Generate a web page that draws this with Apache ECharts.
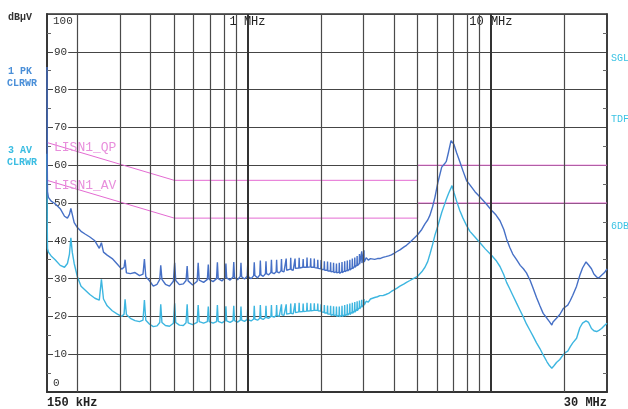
<!DOCTYPE html>
<html><head><meta charset="utf-8">
<script src="https://cdn.jsdelivr.net/npm/echarts@6/dist/echarts.min.js"></script>
<style>html,body{margin:0;padding:0;background:#fff}#c{width:628px;height:409px}</style>
</head><body><div id="c"></div>
<script>
// Frequency (MHz) of each trace sample
const freqMHz = [
0.150,0.1503,0.1507,0.152,0.156,0.162,0.170,0.177,0.182,0.1855,0.188,0.1905,0.194,0.200,0.207,0.215,0.225,0.236,0.246,0.251,0.256,0.265,0.278,0.292,0.304,0.311,0.314,0.318,0.330,0.345,0.360,0.372,0.377,0.382,0.395,0.410,0.425,0.436,0.440,0.445,
0.460,0.478,0.496,0.502,0.507,0.525,0.545,0.559,0.565,0.570,0.595,0.621,0.627,0.633,0.660,0.684,0.690,0.696,0.722,0.746,0.752,0.758,0.785,0.809,0.815,0.821,0.848,0.872,0.878,0.884,0.910,0.934,0.940,0.946,0.972,0.997,1.003,1.009,
1.035,1.060,1.066,1.072,1.100,1.123,1.129,1.135,1.160,1.185,1.191,1.197,1.222,1.248,1.254,1.260,1.286,1.311,1.317,1.323,1.350,1.373,1.379,1.385,1.412,1.436,1.442,1.448,1.475,1.499,1.505,1.511,
1.540,1.562,1.568,1.574,1.600,1.624,1.630,1.636,1.665,1.687,1.693,1.699,1.727,1.750,1.756,1.762,1.790,1.812,1.818,1.824,1.852,1.875,1.881,1.887,1.915,1.938,1.944,1.950,1.978,2.000,2.006,2.012,
2.040,2.063,2.069,2.075,2.105,2.126,2.132,2.138,2.165,2.189,2.195,2.201,2.230,2.251,2.257,2.263,2.290,2.314,2.320,2.326,2.355,2.377,2.383,2.389,2.418,2.439,2.445,2.451,2.480,2.502,2.508,2.514,
2.545,2.565,2.571,2.577,2.608,2.627,2.633,2.639,2.670,2.690,2.696,2.702,2.733,2.753,2.759,2.765,2.796,2.815,2.821,2.827,2.860,2.878,2.884,2.890,2.925,2.941,2.947,2.953,2.985,3.004,3.010,3.016,
3.050,3.073,3.135,3.200,3.260,3.330,3.420,3.500,3.600,3.700,3.800,3.900,4.000,4.100,4.230,4.400,4.500,4.650,4.800,5.000,5.200,5.360,5.500,5.620,5.760,5.890,6.060,6.280,6.440,6.560,6.700,6.860,6.920,7.050,7.230,7.450,7.680,7.950,8.200,8.600,9.020,9.500,10.08,10.50,10.90,11.30,11.60,11.95,12.30,12.75,13.20,13.60,14.00,14.50,14.90,15.40,15.90,16.40,17.00,17.40,17.80,18.00,18.20,18.60,18.80,19.20,19.80,20.20,20.70,21.20,21.70,22.50,23.20,23.80,24.60,25.20,25.90,26.50,27.20,27.80,28.50,29.30,30.00
];
// Trace 1: PK CLRWR (dBµV)
const pkDb = [
86,62,53,51.5,50.5,49.8,48.5,46.5,46,47,48.6,47,44.8,43.5,42.5,41.8,41,40,38,39.5,37,36.2,35.3,33.8,32.5,33,35,31.5,31.3,31.6,30.8,31.2,35.2,30.5,29.5,28,28.5,29.8,33.5,29.8,
28.5,28,29.3,34.2,29.5,28.4,28.6,29.5,33.3,29.4,28.3,29.3,34.2,29.6,29,29.8,33.7,29.8,29.2,30,34.3,30,29.4,30.2,34,30.2,29.6,30.4,34.4,30.3,29.7,30.6,34.2,30.5,29.9,30.6,34.5,30.5,
30,30.8,34.3,30.8,30.2,31,34.8,31,30.6,31.3,34.6,31.3,31,31.6,35,31.6,31.3,31.8,35,31.8,31.5,32.1,35.2,32,31.8,32.3,35.3,32.2,32,32.5,35.5,32.4,
32.2,32.7,35.3,32.7,32.4,32.8,35.5,32.8,32.6,33,35.2,33,32.7,33,35.6,33,32.7,33.1,35.4,33,32.6,33,35.3,32.9,32.4,32.8,35,32.7,32.3,32.6,34.9,32.4,
32,32.4,34.6,32.2,31.8,32.2,34.5,32,31.6,32,34.3,31.8,31.5,31.9,34.2,31.6,31.4,31.8,34,31.5,31.3,31.7,34.2,31.4,31.3,31.8,34.4,31.6,31.5,32,34.6,31.8,
31.8,32.2,34.8,32,32.1,32.5,35,32.3,32.4,32.8,35.3,32.6,32.8,33.2,35.6,33,33.2,33.6,36,33.4,33.6,34,36.5,33.8,34,34.3,37.2,34.1,34.3,34.6,37.5,34.4,
34.6,35.5,34.9,35.3,35,35.1,35.3,35.3,35.6,35.8,36,36.3,36.7,37.1,37.6,38.4,38.8,39.6,40.5,41.6,43,44.5,45.5,46.8,49,51.5,55.5,59.5,60.3,61,63.5,66.5,67,65.5,63.3,61,58.5,55.9,54.8,53,51.6,50,48,46.8,45.3,43,40.5,38.3,36.5,35,33.5,32.6,31.5,29.5,27.5,25,22.8,20.8,19.5,18.6,17.7,18.5,18,19.5,19,20.5,22,22.5,23,24.2,25.6,28,30.9,32.8,34.4,33.6,32.6,31.2,30.4,30.2,30.9,31.6,32.6
];
// Trace 3: AV CLRWR (dBµV)
const avDb = [
63,45,38,37,36,35,33.5,33,34,36.5,40.8,37,34,30.5,28,27,25.8,24.8,24.3,29.8,24.6,22.8,21.5,20.6,20,20.6,24.5,20.5,19.5,18.9,18.6,19,24.3,19,18,17.3,17.5,18.4,23.2,18.4,
17.6,17.4,18.2,23.5,18.4,17.7,17.6,18.3,23.2,18.3,17.8,18.4,23,18.6,18.2,18.6,22.6,18.6,18.2,18.6,23,18.7,18.3,18.8,22.7,18.8,18.4,18.9,22.8,18.9,18.5,19,22.6,19,18.7,19.2,23,19.1,
18.8,19.3,22.8,19.3,19,19.5,23,19.5,19.2,19.7,22.8,19.7,19.5,20,23,20,19.8,20.2,23,20.2,20,20.4,23.2,20.4,20.3,20.6,23.2,20.6,20.5,20.8,23.4,20.8,
20.7,21,23.5,21,20.9,21.2,23.6,21.2,21,21.3,23.4,21.3,21.1,21.4,23.6,21.4,21.3,21.5,23.5,21.5,21.3,21.6,23.5,21.6,21.3,21.6,23.4,21.5,21.2,21.4,23.2,21.2,
20.8,21.1,23,20.9,20.4,20.9,22.9,20.6,20.1,20.6,22.8,20.3,19.9,20.5,22.7,20.2,19.7,20.4,22.6,20,19.6,20.3,22.6,19.9,19.6,20.3,22.8,20,19.7,20.4,23,20.1,
19.9,20.6,23.2,20.3,20.1,20.9,23.4,20.5,20.4,21.2,23.6,20.8,20.7,21.5,23.8,21.1,21,21.9,24,21.5,21.5,22.3,24.2,22,22,22.7,24.4,22.5,22.6,23.1,24.6,23,
23.2,24,23.8,24.6,24.4,25,25.2,25.5,25.5,25.8,26.1,26.6,27,27.4,28,28.6,29,29.5,30,30.6,31.8,33,34.5,36.5,39,41.5,44,47.5,49.5,51,52.5,54,54.6,52.8,50.5,48,46,44,42.5,41,39.5,37.8,36.1,34.8,33.2,31,29,27.3,25.6,23.5,21.5,19.8,18,16.2,14.8,13,11.5,9.8,8,7,6.3,6.5,7,7.8,8.2,8.6,9.8,10.4,10.8,12,13,14.2,17,18.2,18.8,18.4,16.8,16.2,16,16.3,16.8,17.6,18.2
];
// Limit lines
const qpLimitFreq = [0.15, 0.5, 5, 5, 30];
const qpLimitDb   = [66, 56, 56, 60, 60];
const avLimitFreq = [0.15, 0.5, 5, 5, 30];
const avLimitDb   = [56, 46, 46, 50, 50];
// Vertical grid frequencies (MHz)
const gridFreqs = [0.2,0.3,0.4,0.5,0.6,0.7,0.8,0.9,2,3,4,5,6,7,8,9,20];
const decadeFreqs = [1, 10];
// Axis ranges
const yMin = 0, yMax = 100, yStep = 10;
const xMin = 0.15, xMax = 30;

const zip = (a, b) => a.map((v, i) => [v, b[i]]);
const mono = 'Liberation Mono, DejaVu Sans Mono, monospace';
const pink = '#e46bd2';
const blue = '#4670c6';
const cyan = '#3db6e0';

const chart = echarts.init(document.getElementById('c'), null, {renderer: 'canvas'});
const near = (a, b) => Math.abs(a - b) / b < 0.02;

chart.setOption({
  animation: false,
  backgroundColor: '#fff',
  grid: {left: 47, right: 21, top: 14, bottom: 15, show: true, borderColor: '#333', borderWidth: 1.5, backgroundColor: 'transparent'},
  xAxis: [{
    type: 'log', logBase: 10, min: xMin, max: xMax, position: 'bottom',
    axisLine: {show: true, lineStyle: {color: '#333', width: 1.5}},
    axisTick: {show: false}, splitLine: {show: false},
    axisLabel: {
      margin: 5, fontFamily: mono, fontSize: 12, fontWeight: 'bold', color: '#222',
      alignMinLabel: 'left', alignMaxLabel: 'right', showMinLabel: true, showMaxLabel: true,
      formatter: v => near(v, xMin) ? '150 kHz' : (near(v, xMax) ? '30 MHz' : '')
    }
  }, {
    type: 'log', logBase: 10, min: xMin, max: xMax, position: 'top',
    axisLine: {show: true, lineStyle: {color: '#333', width: 1.5}},
    axisTick: {show: false}, splitLine: {show: false},
    axisLabel: {
      inside: true, margin: 2, fontFamily: mono, fontSize: 12, color: '#222',
      showMinLabel: false, showMaxLabel: false,
      formatter: v => near(v, 1) ? '1 MHz' : (near(v, 10) ? '10 MHz' : '')
    }
  }],
  yAxis: [{
    type: 'value', min: yMin, max: yMax, interval: yStep, position: 'left',
    axisLine: {show: true, lineStyle: {color: '#333', width: 1.8}},
    axisTick: {show: false, inside: true},
    minorTick: {show: true, splitNumber: 2, length: 4, lineStyle: {color: '#666'}},
    splitLine: {show: true, lineStyle: {color: '#454545', width: 1.2}},
    axisLabel: {
      inside: true, margin: 6, fontFamily: mono, fontSize: 11, color: '#333',
      formatter: v => v === yMax ? '{t|' + v + '}' : (v === yMin ? '{b|' + v + '}' : '{n|' + v + '}'),
      rich: {
        n: {backgroundColor: '#fff', padding: [0, 1], fontFamily: mono, fontSize: 11, color: '#333'},
        t: {padding: [14, 0, 0, 0], fontFamily: mono, fontSize: 11, color: '#333'},
        b: {padding: [0, 0, 18, 0], fontFamily: mono, fontSize: 11, color: '#333'}
      }
    }
  }, {
    type: 'value', min: yMin, max: yMax, interval: yStep, position: 'right',
    axisLine: {show: true, lineStyle: {color: '#333', width: 1.5}},
    axisTick: {show: false, inside: true},
    minorTick: {show: true, splitNumber: 2, length: 4, lineStyle: {color: '#666'}},
    splitLine: {show: false}, axisLabel: {show: false}
  }],
  graphic: [
    {type: 'text', x: 8, y: 17, style: {text: 'dBµV', fill: '#333', font: 'bold 10px ' + mono, verticalAlign: 'middle'}},
    {type: 'text', x: 8, y: 71, style: {text: '1 PK', fill: '#4a8fd8', font: 'bold 10px ' + mono, verticalAlign: 'middle'}},
    {type: 'text', x: 7, y: 83, style: {text: 'CLRWR', fill: '#4a8fd8', font: 'bold 10px ' + mono, verticalAlign: 'middle'}},
    {type: 'text', x: 8, y: 150, style: {text: '3 AV', fill: '#3bbde2', font: 'bold 10px ' + mono, verticalAlign: 'middle'}},
    {type: 'text', x: 7, y: 162, style: {text: 'CLRWR', fill: '#3bbde2', font: 'bold 10px ' + mono, verticalAlign: 'middle'}},
    {type: 'text', x: 611, y: 58, style: {text: 'SGL', fill: '#3bc3e4', font: '10px ' + mono, verticalAlign: 'middle'}},
    {type: 'text', x: 611, y: 119, style: {text: 'TDF', fill: '#3bc3e4', font: '10px ' + mono, verticalAlign: 'middle'}},
    {type: 'text', x: 611, y: 226, style: {text: '6DB', fill: '#3bc3e4', font: '10px ' + mono, verticalAlign: 'middle'}},
    {type: 'text', x: 54, y: 148, z: 10, style: {text: 'LISN1_QP', fill: '#e88fdc', font: '13px ' + mono, verticalAlign: 'middle'}},
    {type: 'text', x: 54, y: 186, z: 10, style: {text: 'LISN1_AV', fill: '#e88fdc', font: '13px ' + mono, verticalAlign: 'middle'}}
  ],
  series: [
    {
      type: 'line', data: [], z: 1, silent: true,
      markLine: {
        silent: true, symbol: ['none', 'none'], label: {show: false},
        lineStyle: {color: '#4a4a4a', width: 1.2, type: 'solid'},
        data: gridFreqs.map(f => ({xAxis: f})).concat(
          decadeFreqs.map(f => ({xAxis: f, lineStyle: {color: '#333', width: 2, type: 'solid'}})))
      }
    },
    {type: 'line', name: 'LISN1_QP', data: zip(qpLimitFreq, qpLimitDb), showSymbol: false, symbol: 'none', z: 2,
      lineStyle: {color: pink, width: 1}},
    {type: 'line', name: 'LISN1_AV', data: zip(avLimitFreq, avLimitDb), showSymbol: false, symbol: 'none', z: 2,
      lineStyle: {color: pink, width: 1}},
    {type: 'line', name: '3 AV', data: zip(freqMHz, avDb), showSymbol: false, symbol: 'none', z: 3, clip: false,
      lineStyle: {color: cyan, width: 1.4}},
    {type: 'line', name: '1 PK', data: zip(freqMHz, pkDb), showSymbol: false, symbol: 'none', z: 4, clip: false,
      lineStyle: {color: blue, width: 1.4}}
  ]
});
</script>
</body></html>
